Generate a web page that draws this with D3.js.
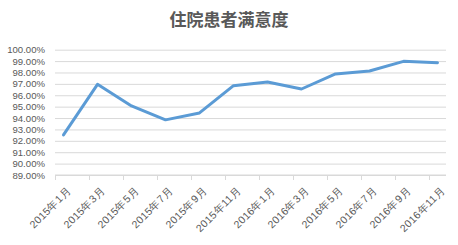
<!DOCTYPE html>
<html>
<head>
<meta charset="utf-8">
<script src="https://cdn.jsdelivr.net/npm/d3@7"></script>
<style>
  body { margin: 0; background: #fff; }
  svg { display: block; }
</style>
</head>
<body>
<svg id="container" width="458" height="245"></svg>
<script>
const title = '住院患者满意度';
// month index from 2015年1月, bimonthly samples
const months = [0, 2, 4, 6, 8, 10, 12, 14, 16, 18, 20, 22];
const labels = ['2015年1月', '2015年3月', '2015年5月', '2015年7月', '2015年9月', '2015年11月',
    '2016年1月', '2016年3月', '2016年5月', '2016年7月', '2016年9月', '2016年11月'];
const values = [92.52, 96.96, 95.06, 93.84, 94.45, 96.84, 97.17, 96.55, 97.87, 98.13, 98.98, 98.86];
const yTicks = [89, 90, 91, 92, 93, 94, 95, 96, 97, 98, 99, 100];

const width = 458;
const height = 245;
const margin = { top: 49.7, right: 12, bottom: 70, left: 55 };

const svg = d3.select('#container');
svg.selectAll('*').remove();

const xScale = d3.scaleLinear().domain([0, 23]).range([margin.left, width - margin.right]);
const yScale = d3.scaleLinear().domain([89, 100]).range([175, margin.top]);

svg.append('text')
    .attr('x', 229)
    .attr('y', 26)
    .attr('text-anchor', 'middle')
    .attr('font-family', '"Noto Sans CJK SC", sans-serif')
    .attr('font-size', 17)
    .attr('font-weight', 'bold')
    .attr('fill', '#595959')
    .text(title);

// horizontal grid + y labels
const yAxis = svg.append('g')
    .attr('transform', 'translate(' + margin.left + ',0)')
    .call(d3.axisLeft(yScale).tickValues(yTicks).tickSize(-(xScale.range()[1] - margin.left))
        .tickFormat(d => d.toFixed(2) + '%').tickPadding(10));
yAxis.select('.domain').remove();
yAxis.selectAll('line').attr('stroke', '#d9d9d9').attr('stroke-width', 1);
yAxis.selectAll('text')
    .attr('fill', '#595959')
    .attr('font-family', '"Liberation Sans", Arial, sans-serif')
    .attr('font-size', 9.6);

// bottom axis with tick marks every 2 months
const xAxis = svg.append('g')
    .attr('transform', 'translate(0,' + yScale(89) + ')')
    .call(d3.axisBottom(xScale).tickValues(months).tickSize(5).tickFormat(''));
xAxis.select('.domain').attr('stroke', '#d9d9d9').attr('d', 'M' + xScale(0) + ',0H' + xScale(23));
xAxis.selectAll('line').attr('stroke', '#d9d9d9');

svg.append('g')
    .selectAll('text')
    .data(labels)
    .join('text')
    .attr('transform', (d, i) => 'translate(' + (xScale(months[i] + 0.5) + 3) + ',' + (yScale(89) + 11) + ') rotate(-45)')
    .attr('text-anchor', 'end')
    .attr('dy', '0.7em')
    .attr('fill', '#595959')
    .attr('font-family', '"Liberation Sans", Arial, sans-serif')
    .attr('font-size', 10.5)
    .attr('letter-spacing', 0.3)
    .text(d => d);

const line = d3.line()
    .x((d, i) => xScale(months[i] + 0.5))
    .y(d => yScale(d));

svg.append('path')
    .datum(values)
    .attr('d', line)
    .attr('fill', 'none')
    .attr('stroke', '#5B9BD5')
    .attr('stroke-width', 3)
    .attr('stroke-linejoin', 'round')
    .attr('stroke-linecap', 'round');
</script>
</body>
</html>
